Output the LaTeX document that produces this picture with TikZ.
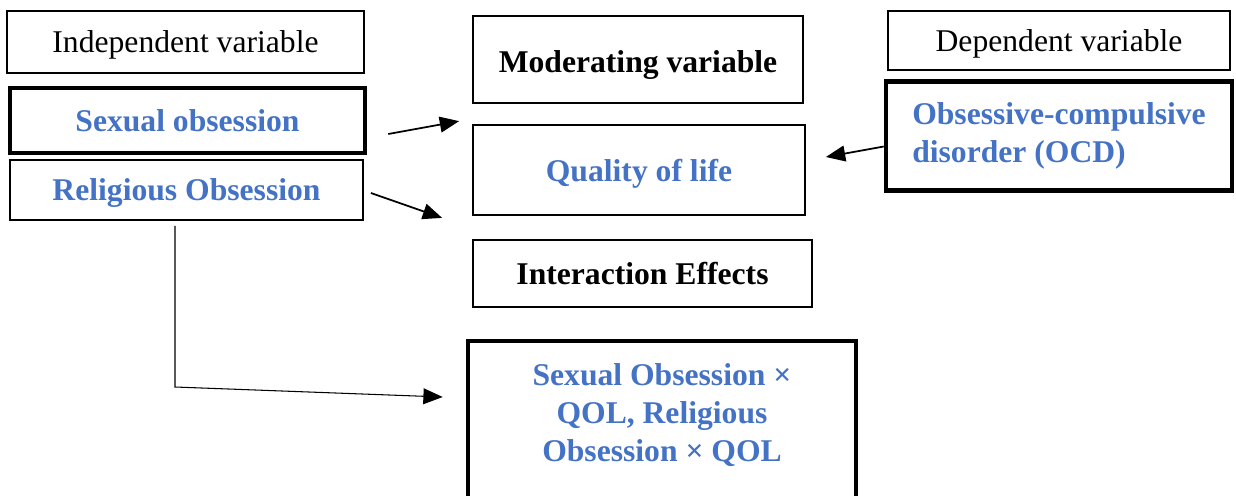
\documentclass[tikz,border=0pt]{standalone}
\usepackage{fontspec}
\setmainfont{Liberation Serif}
\usepackage{tikz}
\usetikzlibrary{arrows.meta}
\definecolor{varblue}{HTML}{4472C4}
\tikzstyle{arrow} = [line width=1pt, -{Triangle[length=11pt, width=9pt]}]
\tikzstyle{thinarrow} = [line width=0.6pt, -{Triangle[length=11pt, width=9pt]}]
\tikzstyle{block} = [rectangle, draw, line width=1pt, text centered, inner sep=0pt]
\tikzstyle{heavy} = [rectangle, draw, line width=2.6pt, text centered, inner sep=0pt]
\tikzstyle{oneline} = [text depth=0pt]

\begin{document}
\begin{tikzpicture}[font=\fontsize{18}{21.5}\selectfont]
    \useasboundingbox (0,0) rectangle (24.72,-9.9);
    % Nodes
    \node[block, oneline, minimum width=7.14cm, minimum height=1.24cm] (indep) at (3.71,-0.84) {Independent variable};
    \node[heavy, oneline, minimum width=7.1cm, minimum height=1.3cm, text=varblue, font=\fontsize{18}{21.5}\selectfont\bfseries] (sexual) at (3.75,-2.41) {Sexual obsession};
    \node[block, oneline, minimum width=7.06cm, minimum height=1.2cm, text=varblue, font=\fontsize{18}{21.5}\selectfont\bfseries] (religious) at (3.73,-3.8) {Religious Obsession};
    \node[block, oneline, text height=15pt, minimum width=6.6cm, minimum height=1.74cm, font=\fontsize{18}{21.5}\selectfont\bfseries] (moderating) at (12.76,-1.19) {Moderating variable};
    \node[block, oneline, minimum width=6.64cm, minimum height=1.8cm, text=varblue, font=\fontsize{18}{21.5}\selectfont\bfseries] (quality) at (12.78,-3.4) {Quality of life};
    \node[block, oneline, minimum width=6.78cm, minimum height=1.34cm, font=\fontsize{18}{21.5}\selectfont\bfseries] (interaction) at (12.85,-5.47) {Interaction Effects};
    \node[block, oneline, minimum width=6.84cm, minimum height=1.18cm] (dep) at (21.18,-0.81) {Dependent variable};
    \node[heavy, align=left, minimum width=6.92cm, minimum height=2.18cm, text=varblue, font=\fontsize{18}{21.5}\selectfont\bfseries] (ocd) at (21.18,-2.72) {Obsessive-compulsive\\ disorder (OCD)};
    \node[heavy, minimum width=7.76cm, minimum height=3.36cm] (product) at (13.24,-8.5) {};
    \node[align=center, text=varblue, font=\fontsize{18}{21.5}\selectfont\bfseries] (producttext) at (13.24,-8.3) {Sexual Obsession ×\\ QOL, Religious\\ Obsession × QOL};

    % Arrows
    \draw[arrow] ([xshift=0.42cm, yshift=-0.27cm]sexual.east) -- ([xshift=-0.26cm, yshift=0.06cm]quality.north west);
    \draw[arrow] ([xshift=0.14cm, yshift=-0.06cm]religious.east) -- ([xshift=-0.6cm, yshift=-0.04cm]quality.south west);
    \draw[arrow] ([yshift=-0.21cm]ocd.west) -- ([xshift=0.4cm, yshift=0.26cm]quality.east);
    \coordinate (bend) at (3.5,-7.74);
    \draw[thinarrow] ([xshift=-0.23cm, yshift=-0.1cm]religious.south) -- (bend) -- ([xshift=-0.46cm, yshift=0.56cm]product.west);

\end{tikzpicture}
\end{document}
